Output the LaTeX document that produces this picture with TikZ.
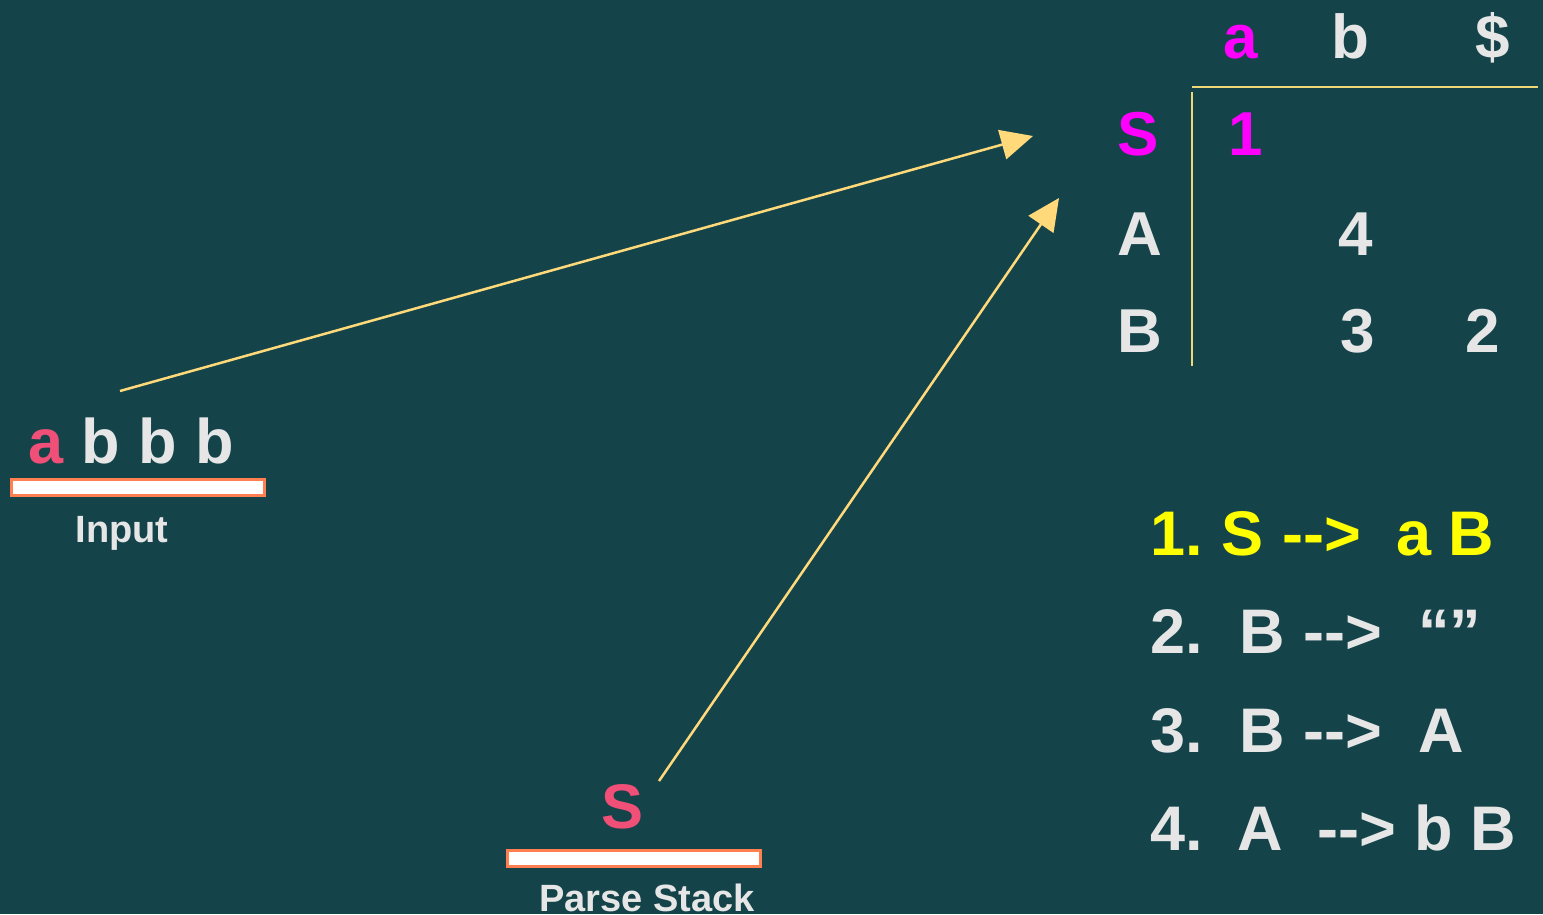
\documentclass[tikz,border=0pt]{standalone}
\usepackage{fontspec}
\setmainfont{Liberation Sans}
\usetikzlibrary{arrows.meta}
\definecolor{bg}{RGB}{20,68,74}
\definecolor{txt}{RGB}{230,230,230}
\definecolor{pinkc}{RGB}{240,80,120}
\definecolor{magc}{RGB}{255,0,255}
\definecolor{yelc}{RGB}{255,255,0}
\definecolor{arrc}{RGB}{255,217,122}
\definecolor{linec}{RGB}{240,216,120}
\definecolor{barc}{RGB}{255,127,80}
\tikzset{
  big/.style={font=\fontsize{63}{70}\selectfont\bfseries, text=txt, inner sep=0pt, anchor=base},
  tab/.style={font=\fontsize{62}{70}\selectfont\bfseries, text=txt, inner sep=0pt, anchor=base},
  rule/.style={font=\fontsize{63}{70}\selectfont\bfseries, text=txt, inner sep=0pt, anchor=base west},
  lbl/.style={font=\fontsize{38}{44}\selectfont\bfseries, text=txt, inner sep=0pt, anchor=base},
  bar/.style={draw=barc, fill=white, line width=3pt},
  arr/.style={draw=arrc, line width=2.5pt, -{Triangle[length=32pt,width=30pt]}},
  tline/.style={draw=linec, line width=2.5pt}
}
\begin{document}
\begin{tikzpicture}[x=1pt,y=-1pt]
\fill[bg] (0,0) rectangle (1543,914);
\useasboundingbox (0,0) rectangle (1543,914);
% input
\node[big, text=pinkc] (ia) at (46,463) {a};
\node[big] (ib1) at (101,463) {b};
\node[big] (ib2) at (158,463) {b};
\node[big] (ib3) at (215,463) {b};
\draw[bar] (11,479) rectangle (264,495);
\node[lbl] (inl) at (122,542) {Input};
\coordinate (a1s) at (120,391);
\coordinate (a1e) at (1033,136);
\draw[arr] (a1s) -- (a1e);
% parse stack
\node[big, text=pinkc] (ps) at (623,828) {S};
\draw[bar] (507,850) rectangle (760,866);
\node[lbl] (psl) at (647,911) {Parse Stack};
\coordinate (a2s) at (659,781);
\coordinate (a2e) at (1059,198);
\draw[arr] (a2s) -- (a2e);
% table
\node[tab, text=magc] (ha) at (1241,58) {a};
\node[tab] (hb) at (1350,58) {b};
\node[tab] (hd) at (1493,58) {\$};
\draw[tline] (1192,87) -- (1538,87);
\draw[tline] (1192,92) -- (1192,366);
\node[tab, text=magc] (rS) at (1138,155) {S};
\node[tab] (rA) at (1140,255) {A};
\node[tab] (rB) at (1140,352) {B};
\node[tab, text=magc] (c1) at (1246,155) {1};
\node[tab] (c4) at (1356,255) {4};
\node[tab] (c3) at (1358,352) {3};
\node[tab] (c2) at (1483,352) {2};
% rules
\node[rule, text=yelc] (r1n) at (1150,555) {1.};
\node[rule, text=yelc] (r1l) at (1221,555) {S};
\node[rule, text=yelc] (r1a) at (1282,555) {-{}->};
\node[rule, text=yelc] (r1r) at (1396,555) {a B};
\node[rule] (r2n) at (1150,653) {2.};
\node[rule] (r2l) at (1239,653) {B};
\node[rule] (r2a) at (1303,653) {-{}->};
\node[rule] (r2r) at (1418,653) {“”};
\node[rule] (r3n) at (1150,752) {3.};
\node[rule] (r3l) at (1239,752) {B};
\node[rule] (r3a) at (1303,752) {-{}->};
\node[rule] (r3r) at (1418,752) {A};
\node[rule] (r4n) at (1150,850) {4.};
\node[rule] (r4l) at (1237,850) {A};
\node[rule] (r4a) at (1317,850) {-{}->};
\node[rule] (r4r) at (1414,850) {b B};
\end{tikzpicture}
\end{document}
